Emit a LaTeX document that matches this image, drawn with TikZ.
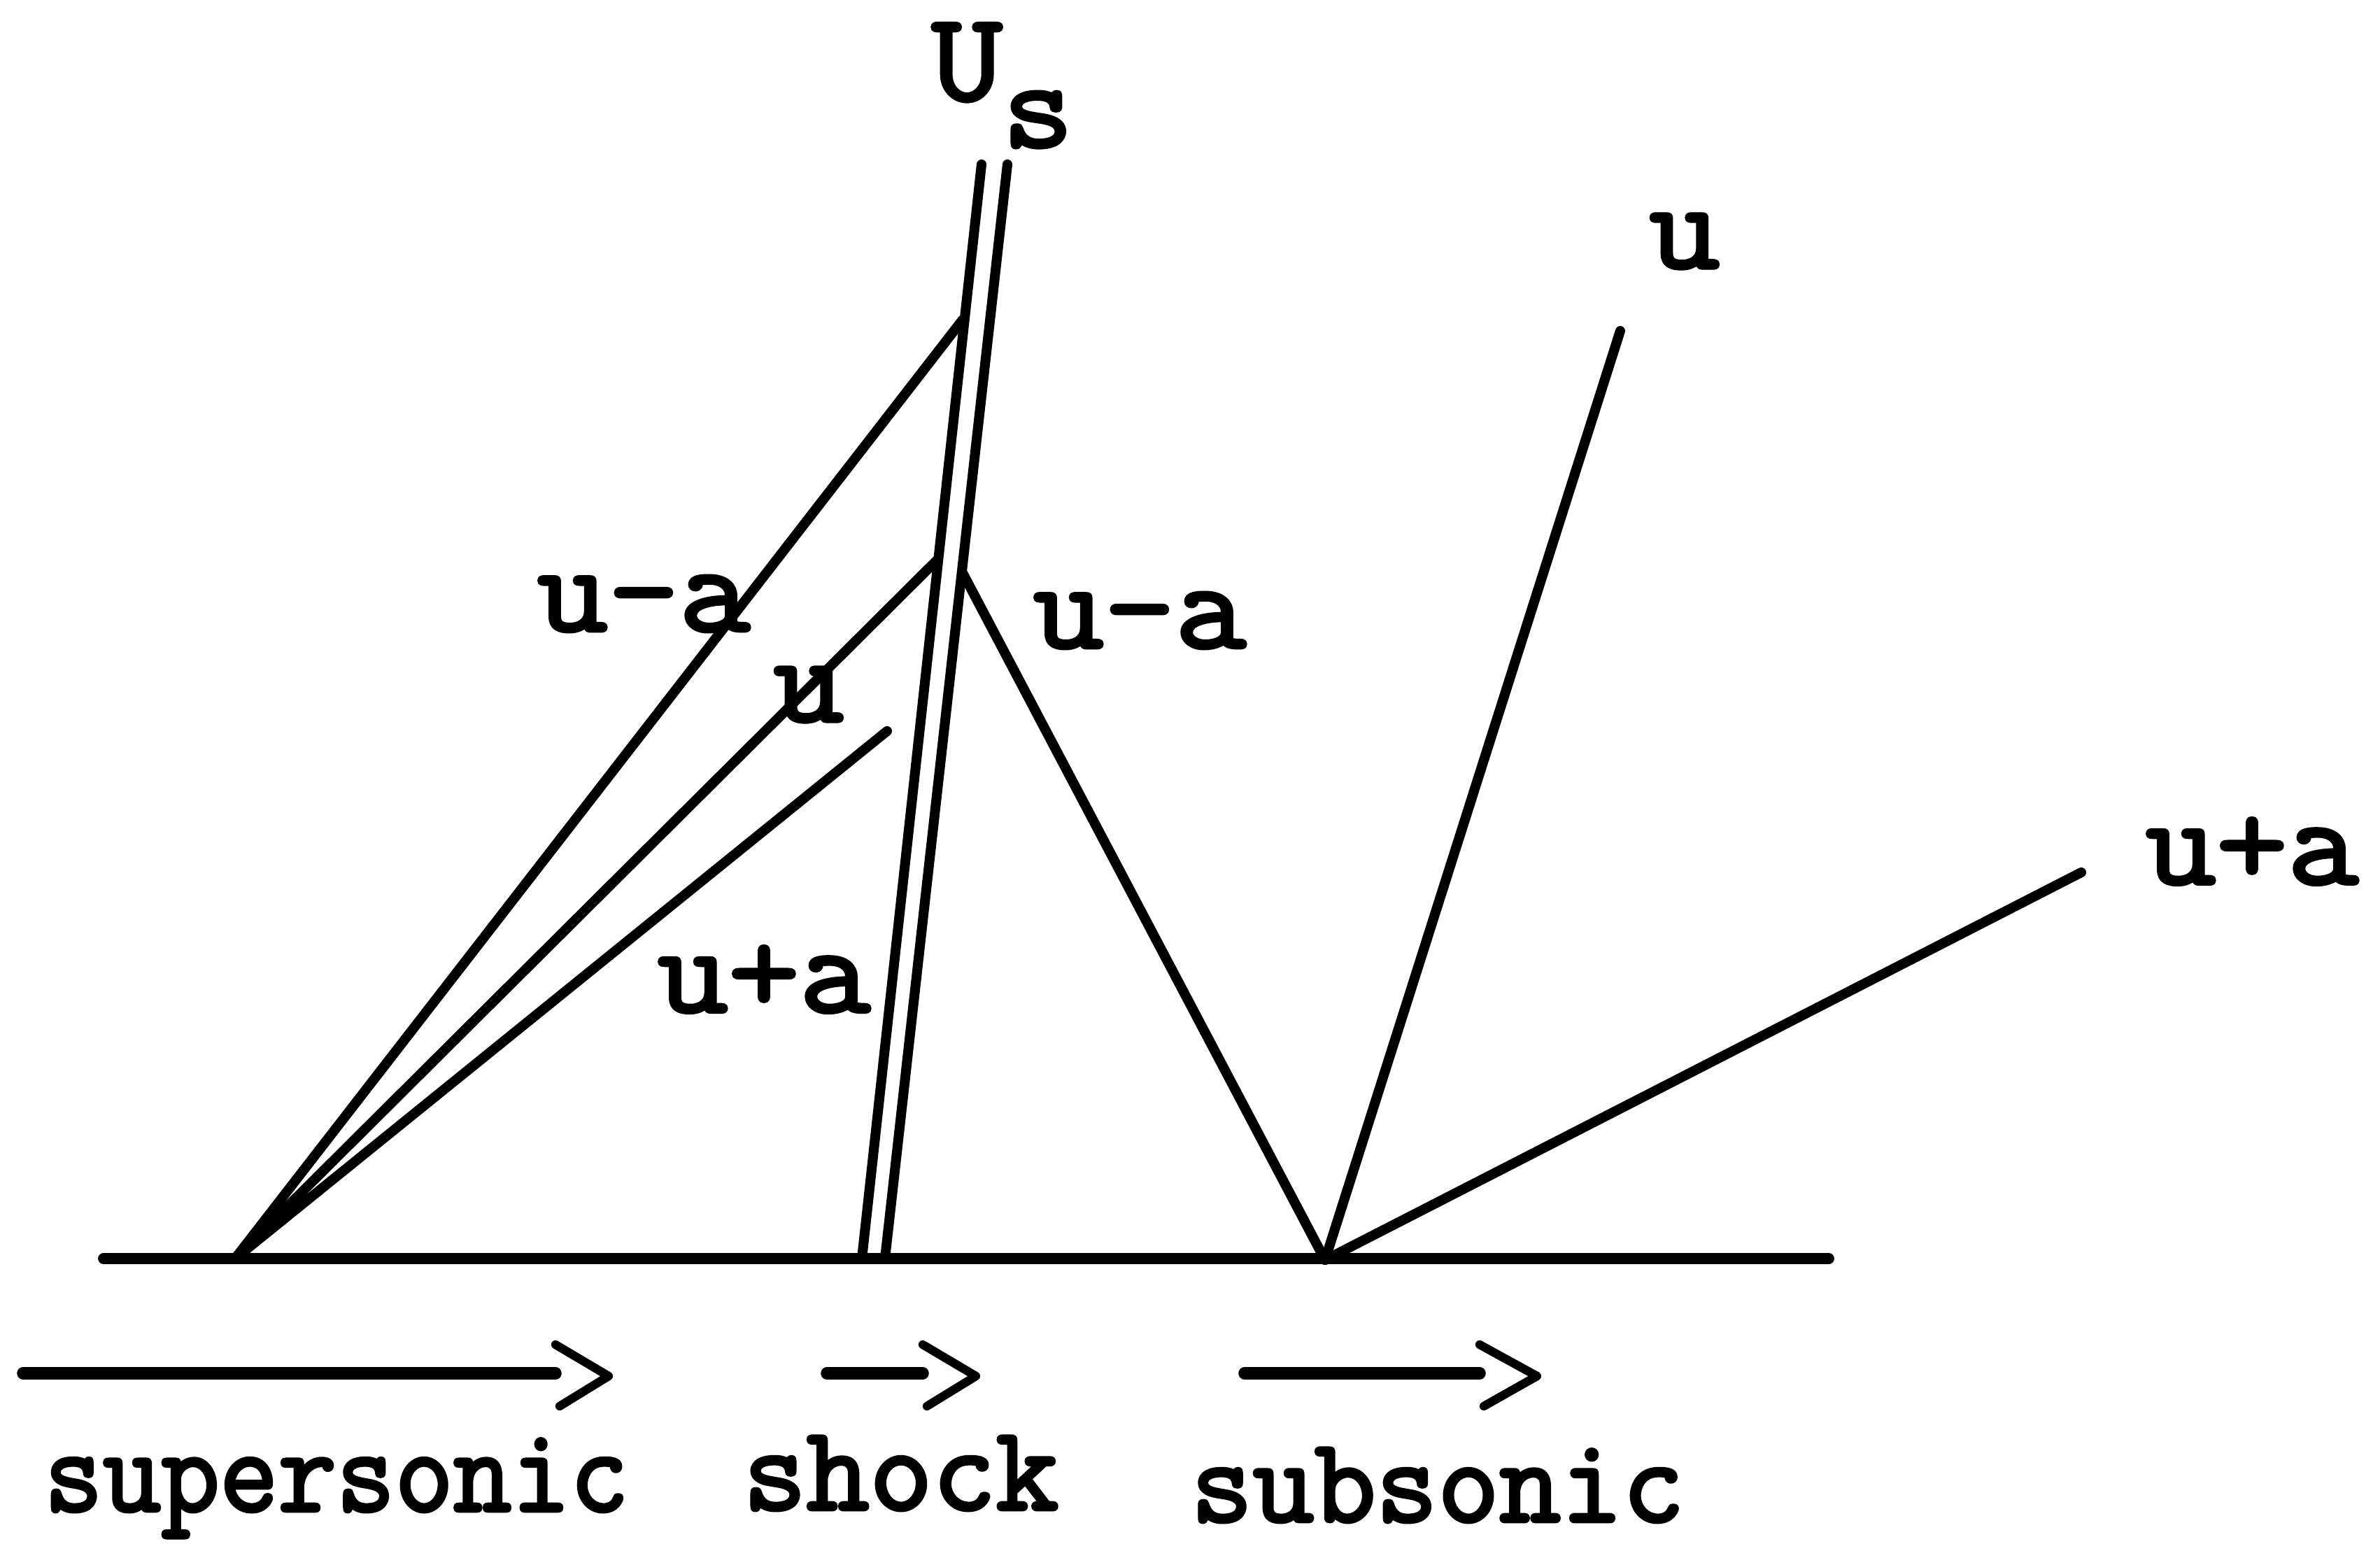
\documentclass[tikz,border=0pt]{standalone}
\usepackage{fontspec}
\usepackage{graphicx}
\usetikzlibrary{calc}
\newfontfamily\labfont[FakeBold=2.8,FakeStretch=1.1]{Latin Modern Mono}
\newfontfamily\botfont[FakeBold=2.8]{Latin Modern Mono}
\begin{document}
\begin{tikzpicture}[x=1cm,y=1cm, line cap=round, line join=round,
  ray/.style={line width=4pt},
  baseln/.style={line width=4.5pt},
  lab/.style={font=\labfont\fontsize{51}{51}\selectfont, inner sep=0pt},
  bot/.style={font=\botfont\fontsize{49}{49}\selectfont, inner sep=0pt, anchor=base},
  shaft/.style={line width=5pt, line cap=round},
  chev/.style={line width=3.5pt}]
\useasboundingbox (0,0) rectangle (34.02,22.16);
% points
\coordinate (baseL) at (1.48,4.17);
\coordinate (baseR) at (26.14,4.17);
\coordinate (O1) at (3.36,4.17);
\coordinate (O2) at (18.94,4.15);
\coordinate (shLb) at (12.32,4.17);
\coordinate (shLt) at (14.03,19.81);
\coordinate (shRb) at (12.65,4.17);
\coordinate (shRt) at (14.40,19.81);
\coordinate (uaL) at (13.76,17.59);
\coordinate (uL) at (13.40,14.16);
\coordinate (upaL) at (12.68,11.71);
\coordinate (uaR) at (13.75,13.99);
\coordinate (uR) at (23.16,17.43);
\coordinate (upaR) at (29.75,9.69);
% lines
\draw[baseln] (baseL) -- (baseR);
\draw[ray] (shLb) -- (shLt);
\draw[ray] (shRb) -- (shRt);
\draw[ray] (O1) -- (uaL);
\draw[ray] (O1) -- (uL);
\draw[ray] (O1) -- (upaL);
\draw[ray] (uaR) -- (O2);
\draw[ray] (O2) -- (uR);
\draw[ray] (O2) -- (upaR);
% labels
\node[lab, anchor=base] (Us) at (14.33,20.73) {U\raisebox{-0.67cm}{s}};
\node[lab] (lu1) at (24.08,18.71) {u};
\node[lab] (lua1) at (9.20,13.53) {u-a};
\node[lab] (lu2) at (11.56,12.23) {u};
\node[lab] (lua2) at (16.29,13.29) {u-a};
\node[lab] (lupa1) at (10.92,8.16) {u+a};
\node[lab] (lupa2) at (32.19,9.99) {u+a};
% flow arrows
\coordinate (a1s) at (0.33,2.53);
\coordinate (a1e) at (7.94,2.53);
\coordinate (a1t) at (8.70,2.49);
\draw[shaft] (a1s) -- (a1e);
\draw[chev] ($(a1e)+(0,0.41)$) -- (a1t) -- ($(a1e)+(0.06,-0.47)$);
\coordinate (a2s) at (11.82,2.53);
\coordinate (a2e) at (13.19,2.53);
\coordinate (a2t) at (13.95,2.49);
\draw[shaft] (a2s) -- (a2e);
\draw[chev] ($(a2e)+(0,0.41)$) -- (a2t) -- ($(a2e)+(0.06,-0.47)$);
\coordinate (a3s) at (17.79,2.53);
\coordinate (a3e) at (21.15,2.53);
\coordinate (a3t) at (21.97,2.49);
\draw[shaft] (a3s) -- (a3e);
\draw[chev] ($(a3e)+(0,0.41)$) -- (a3t) -- ($(a3e)+(0.06,-0.47)$);
\node[bot] (lsup) at (4.81,0.56) {\resizebox{8.35cm}{\height}{supersonic}};
\node[bot] (lsh) at (12.88,0.58) {\resizebox{4.51cm}{\height}{shock}};
\node[bot] (lsub) at (20.55,0.41) {\resizebox{7.05cm}{\height}{subsonic}};
\end{tikzpicture}
\end{document}
